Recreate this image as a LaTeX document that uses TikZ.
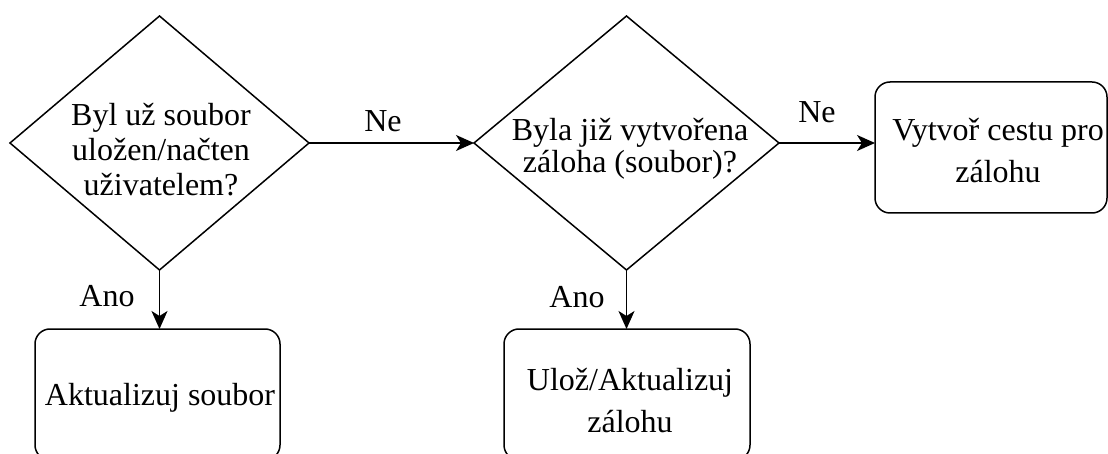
\documentclass[tikz,border=0pt]{standalone}
\usepackage{fontspec}
\setmainfont{Liberation Serif}
\usetikzlibrary{shapes.geometric,arrows.meta}
\begin{document}
\begin{tikzpicture}[x=1pt,y=-1pt,
  every node/.style={inner sep=0pt,outer sep=0pt},
  txt/.style={font=\fontsize{32}{35}\selectfont,align=center},
  lbl/.style={font=\fontsize{32}{35}\selectfont,anchor=base},
  dec/.style={draw,line width=1.5pt,shape=diamond,minimum width=#1,minimum height=254pt},
  boxnode/.style={draw,line width=1.5pt,rounded corners=15pt,minimum width=#1,minimum height=131pt},
  conn/.style={line width=1.5pt,-{Stealth[length=18pt,width=16pt,inset=5pt]}}]
\useasboundingbox (0,0) rectangle (1108,454);
% shapes
\node[dec=299pt] (d1) at (159.5,143) {};
\node[dec=305pt] (d2) at (626.5,143) {};
\node[boxnode=232pt] (b3) at (991,147.5) {};
\node[boxnode=245pt] (b1) at (157.5,394.5) {};
\node[boxnode=246pt] (b2) at (627,394.5) {};
% texts
\node[txt] (t1) at (161,150) {Byl už soubor\\uložen/načten\\uživatelem?};
\node[txt,font=\fontsize{32}{32}\selectfont] (t2) at (630,148.5) {Byla již vytvořena\\ záloha (soubor)?};
\node[txt,font=\fontsize{32}{42}\selectfont] (t3) at (998,151) {Vytvoř cestu pro\\zálohu};
\node[txt] (t4) at (160,398) {Aktualizuj soubor};
\node[txt,font=\fontsize{32}{42}\selectfont] (t5) at (630,401) {Ulož/Aktualizuj\\zálohu};
% connectors
\draw[conn] (d1.east) -- (d2.west);
\draw[conn] (d2.east) -- (d2.east -| b3.west);
\draw[conn] (d1.south) -- (d1.south |- b1.north);
\draw[conn] (d2.south) -- (d2.south |- b2.north);
% labels
\node[lbl] (l1) at (383,132) {Ne};
\node[lbl] (l2) at (817,123) {Ne};
\node[lbl] (l3) at (107,306) {Ano};
\node[lbl] (l4) at (577,308) {Ano};
\end{tikzpicture}
\end{document}
